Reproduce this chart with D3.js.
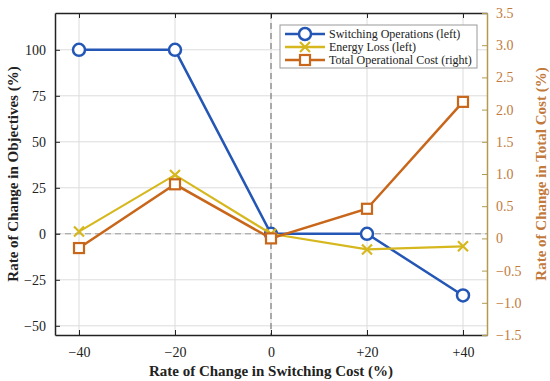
<!DOCTYPE html>
<html>
<head>
<meta charset="utf-8">
<script src="https://cdn.jsdelivr.net/npm/d3@7"></script>
<style>
  body { margin: 0; background: #fff; }
  text { font-family: "Liberation Serif", "DejaVu Serif", serif; }
</style>
</head>
<body>
<div id="chart"></div>
<script>
// values
var steps = [-40, -20, 0, 20, 40];
var stepLabels = ["\u221240", "\u221220", "0", "+20", "+40"];
var switchingOps = [100, 100, 0, 0, -33.5];
var energyLoss = [1.2, 32, 0, -8.5, -6.8];
var totalCost = [-0.15, 0.84, 0, 0.46, 2.12];
var leftTicks = [-50, -25, 0, 25, 50, 75, 100];
var rightTicks = [-1.5, -1.0, -0.5, 0, 0.5, 1.0, 1.5, 2.0, 2.5, 3.0, 3.5];
var seriesNames = ["Switching Operations (left)", "Energy Loss (left)", "Total Operational Cost (right)"];

var blue = "#2457b5", yellow = "#d6b81e", orange = "#c8661a";
var rightAxisCol = "#b39a52", rightTextCol = "#c27a3c";

var W = 550, H = 381;
var margin = {top: 13, right: 63, bottom: 46, left: 55};
var width = W - margin.left - margin.right,
    height = H - margin.top - margin.bottom;

var svg = d3.select("#chart").append("svg")
  .attr("width", W).attr("height", H);

var g = svg.append("g")
  .attr("transform", "translate(" + margin.left + "," + margin.top + ")");

var x = d3.scaleLinear().domain([-45, 45]).range([0, width]);
var yL = d3.scaleLinear().domain([-55, 120]).range([height, 0]);
var yR = d3.scaleLinear().domain([-1.5, 3.5]).range([height, 0]);

// grid
g.append("g").selectAll("line").data(steps).enter().append("line")
  .attr("x1", function(d){ return x(d); }).attr("x2", function(d){ return x(d); })
  .attr("y1", 0).attr("y2", height)
  .attr("stroke", "#dcdcdc").attr("stroke-width", 1);
g.append("g").selectAll("line").data(leftTicks).enter().append("line")
  .attr("x1", 0).attr("x2", width)
  .attr("y1", function(d){ return yL(d); }).attr("y2", function(d){ return yL(d); })
  .attr("stroke", "#dcdcdc").attr("stroke-width", 1);

// zero reference lines
g.append("line")
  .attr("x1", x(0)).attr("x2", x(0)).attr("y1", 0).attr("y2", height)
  .attr("stroke", "#666").attr("stroke-width", 1).attr("stroke-dasharray", "6,4");
g.append("line")
  .attr("x1", 0).attr("x2", width).attr("y1", yL(0)).attr("y2", yL(0))
  .attr("stroke", "#999").attr("stroke-width", 1).attr("stroke-dasharray", "6,4");

// axes (ticks pointing inward)
var xAxis = g.append("g").attr("transform", "translate(0," + height + ")")
  .call(d3.axisBottom(x).tickValues(steps).tickSizeInner(-5).tickSizeOuter(0).tickPadding(12)
    .tickFormat(function(d, i){ return stepLabels[i]; }));
xAxis.select(".domain").attr("stroke", "#222").attr("stroke-width", 1.5);
xAxis.selectAll("line").attr("stroke", "#222");
xAxis.selectAll("text").style("font-size", "14px").attr("fill", "#222");

var xTop = g.append("g")
  .call(d3.axisTop(x).tickValues(steps).tickSizeInner(-5).tickSizeOuter(0).tickFormat(""));
xTop.select(".domain").attr("stroke", "#222").attr("stroke-width", 1.5);
xTop.selectAll("line").attr("stroke", "#222");

var yAxisL = g.append("g")
  .call(d3.axisLeft(yL).tickValues(leftTicks).tickSizeInner(-5).tickSizeOuter(0).tickPadding(9)
    .tickFormat(function(d){ return d < 0 ? "\u2212" + Math.abs(d) : d; }));
yAxisL.select(".domain").attr("stroke", "#222").attr("stroke-width", 1.5);
yAxisL.selectAll("line").attr("stroke", "#222");
yAxisL.selectAll("text").style("font-size", "14px").attr("fill", "#222");

var yAxisR = g.append("g").attr("transform", "translate(" + width + ",0)")
  .call(d3.axisRight(yR).tickValues(rightTicks).tickSizeInner(-5).tickSizeOuter(0).tickPadding(9)
    .tickFormat(function(d){
      if (d === 0) return "0";
      var s = d3.format(".1f")(Math.abs(d));
      return d < 0 ? "\u2212" + s : s;
    }));
yAxisR.select(".domain").attr("stroke", rightAxisCol).attr("stroke-width", 1.5);
yAxisR.selectAll("line").attr("stroke", rightAxisCol);
yAxisR.selectAll("text").style("font-size", "14px").attr("fill", rightTextCol);

// lines
var lineL = d3.line().x(function(d, i){ return x(steps[i]); }).y(function(d){ return yL(d); });
var lineR = d3.line().x(function(d, i){ return x(steps[i]); }).y(function(d){ return yR(d); });

// markers
function cross(sel, cx, cy, col) {
  var s = 5;
  sel.append("path")
    .attr("d", "M" + (cx - s) + "," + (cy - s) + "L" + (cx + s) + "," + (cy + s) +
               "M" + (cx - s) + "," + (cy + s) + "L" + (cx + s) + "," + (cy - s))
    .attr("stroke", col).attr("stroke-width", 2.2).attr("fill", "none");
}
function square(sel, cx, cy, col) {
  sel.append("rect").attr("x", cx - 5).attr("y", cy - 5).attr("width", 10).attr("height", 10)
    .attr("fill", "#fff").attr("stroke", col).attr("stroke-width", 2.2);
}
function circle(sel, cx, cy, col) {
  sel.append("circle").attr("cx", cx).attr("cy", cy).attr("r", 6)
    .attr("fill", "#fff").attr("stroke", col).attr("stroke-width", 2.5);
}

// draw order: switching, energy, total cost on top
g.append("path").datum(switchingOps).attr("d", lineL)
  .attr("fill", "none").attr("stroke", blue).attr("stroke-width", 2.5);
switchingOps.forEach(function(d, i){ circle(g, x(steps[i]), yL(d), blue); });

g.append("path").datum(energyLoss).attr("d", lineL)
  .attr("fill", "none").attr("stroke", yellow).attr("stroke-width", 2.2);
energyLoss.forEach(function(d, i){ cross(g, x(steps[i]), yL(d), yellow); });

g.append("path").datum(totalCost).attr("d", lineR)
  .attr("fill", "none").attr("stroke", orange).attr("stroke-width", 2.5);
totalCost.forEach(function(d, i){ square(g, x(steps[i]), yR(d), orange); });

// legend
var lg = g.append("g").attr("transform", "translate(" + (280 - margin.left) + "," + (25 - margin.top) + ")");
lg.append("rect").attr("width", 197).attr("height", 43)
  .attr("fill", "#fff").attr("stroke", "#999").attr("stroke-width", 1);
var cols = [blue, yellow, orange];
var marks = [circle, cross, square];
seriesNames.forEach(function(name, i){
  var yy = 9 + i * 13;
  lg.append("line").attr("x1", 5).attr("x2", 45).attr("y1", yy).attr("y2", yy)
    .attr("stroke", cols[i]).attr("stroke-width", 2.5);
  marks[i](lg, 25, yy, cols[i]);
  lg.append("text").attr("x", 49).attr("y", yy + 4)
    .style("font-size", "12px").attr("fill", "#222").text(name);
});

// axis titles
svg.append("text")
  .attr("x", margin.left + width / 2).attr("y", 376)
  .attr("text-anchor", "middle").style("font-size", "15px").style("font-weight", "bold")
  .attr("fill", "#222").text("Rate of Change in Switching Cost (%)");

svg.append("text")
  .attr("transform", "translate(18," + (margin.top + height / 2) + ")rotate(-90)")
  .attr("text-anchor", "middle").style("font-size", "15px").style("font-weight", "bold")
  .attr("fill", "#222").text("Rate of Change in Objectives (%)");

svg.append("text")
  .attr("transform", "translate(546," + (margin.top + height / 2) + ")rotate(-90)")
  .attr("text-anchor", "middle").style("font-size", "15px").style("font-weight", "bold")
  .attr("fill", rightTextCol).text("Rate of Change in Total Cost (%)");
</script>
</body>
</html>
